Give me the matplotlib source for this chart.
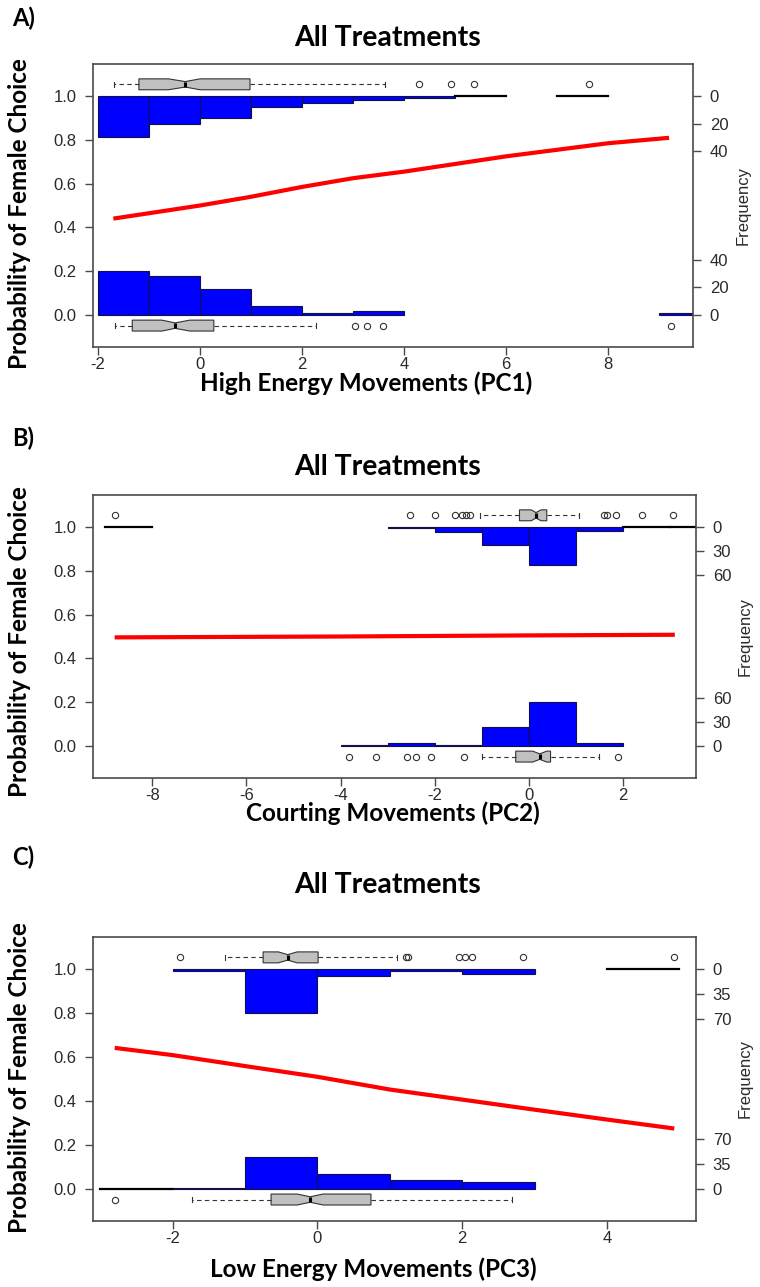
import numpy as np
import matplotlib
matplotlib.use("Agg")
import matplotlib.pyplot as plt

# =============================================================================
# DATA
# =============================================================================
# --- Panel A: High Energy Movements (PC1) ---
a_edges = [-2, -1, 0, 1, 2, 3, 4, 5, 6, 7, 8, 9, 10]
a_top_counts = [30, 20, 16, 8, 5, 3, 1, 0, np.nan, 0, np.nan, np.nan]
a_bot_counts = [32, 28, 19, 6, 1, 3, np.nan, np.nan, np.nan, np.nan, np.nan, 1]
a_curve_x = [-1.7, 0, 1, 2, 3, 4, 5, 6, 7, 8, 9.2]
a_curve_y = [0.44, 0.50, 0.54, 0.585, 0.625, 0.655, 0.69, 0.725, 0.755, 0.785, 0.81]
a_box_top = dict(whislo=-1.69, q1=-1.2, med=-0.29, q3=0.98, whishi=3.63,
                 cilo=-0.62, cihi=0.0, fliers=[4.29, 4.92, 5.37, 7.63])
a_box_bot = dict(whislo=-1.67, q1=-1.33, med=-0.49, q3=0.27, whishi=2.27,
                 cilo=-0.75, cihi=-0.2, fliers=[3.04, 3.27, 3.59, 9.24])
a_xticks = [-2, 0, 2, 4, 6, 8]
a_freq_ticks = [0, 20, 40]

# --- Panel B: Courting Movements (PC2) ---
b_edges = [-9, -8, -7, -6, -5, -4, -3, -2, -1, 0, 1, 2, 3, 4]
b_top_counts = [0, np.nan, np.nan, np.nan, np.nan, np.nan, 1, 6, 22, 48, 5, 0, 0]
b_bot_counts = [np.nan, np.nan, np.nan, np.nan, np.nan, 1, 3, 1, 23, 55, 3, np.nan, np.nan]
b_curve_x = [-8.8, -4, 0, 3.1]
b_curve_y = [0.496, 0.500, 0.505, 0.508]
b_box_top = dict(whislo=-1.04, q1=-0.2, med=0.15, q3=0.38, whishi=1.07,
                 cilo=0.05, cihi=0.26,
                 fliers=[-8.8, -2.53, -2.0, -1.57, -1.43, -1.33, -1.26,
                         1.6, 1.65, 1.85, 2.41, 3.07])
b_box_bot = dict(whislo=-1.0, q1=-0.28, med=0.23, q3=0.46, whishi=1.49,
                 cilo=0.08, cihi=0.38,
                 fliers=[-3.82, -3.24, -2.58, -2.39, -2.08, -1.37, 1.9])
b_xticks = [-8, -6, -4, -2, 0, 2]
b_freq_ticks = [0, 30, 60]

# --- Panel C: Low Energy Movements (PC3) ---
c_edges = [-3, -2, -1, 0, 1, 2, 3, 4, 5]
c_top_counts = [np.nan, 2, 62, 9, 2, 6, np.nan, 0]
c_bot_counts = [0, 1, 44, 21, 12, 9, np.nan, np.nan]
c_curve_x = [-2.8, -2, -1, 0, 1, 2, 3, 4, 4.93]
c_curve_y = [0.642, 0.609, 0.559, 0.51, 0.452, 0.406, 0.36, 0.315, 0.274]
c_box_top = dict(whislo=-1.28, q1=-0.75, med=-0.41, q3=0.01, whishi=1.1,
                 cilo=-0.54, cihi=-0.28,
                 fliers=[-1.9, 1.22, 1.25, 1.95, 2.04, 2.13, 2.84, 4.93])
c_box_bot = dict(whislo=-1.73, q1=-0.64, med=-0.1, q3=0.74, whishi=2.69,
                 cilo=-0.28, cihi=0.08, fliers=[-2.79])
c_xticks = [-2, 0, 2, 4]
c_freq_ticks = [0, 35, 70]

prob_ticks = [0.0, 0.2, 0.4, 0.6, 0.8, 1.0]

# =============================================================================
# DRAWING
# =============================================================================
W, H = 760, 1287
fig = plt.figure(figsize=(W / 100, H / 100), dpi=100)

TICK_FONT = 'Liberation Sans'
PPT_FONT = 'Lato'
SPINE = '#4a4a4a'
YLIM = (-0.148, 1.148)


def px_axes(left, top, right, bottom):
    return fig.add_axes([left / W, 1 - bottom / H, (right - left) / W, (bottom - top) / H])


def draw_panel(box_px, edges, top_counts, bot_counts, curve_x, curve_y,
               box_top, box_bot, xticks, freq_ticks, xlim):
    ax = px_axes(*box_px)
    ax.set_xlim(xlim)
    ax.set_ylim(YLIM)
    scale = 0.2 / np.nanmax(np.concatenate([top_counts, bot_counts]))

    # histograms: top hangs down from 1, bottom rises from 0
    for i in range(len(edges) - 1):
        l, r = edges[i], edges[i + 1]
        for c, base, sign in ((top_counts[i], 1.0, -1), (bot_counts[i], 0.0, 1)):
            if np.isnan(c):
                continue
            if c == 0:
                ax.plot([l, r], [base, base], color='black', lw=1.6, zorder=2)
            else:
                ax.bar(l, sign * c * scale, width=r - l, bottom=base, align='edge',
                       color='#0000ff', edgecolor='#10104a', linewidth=0.8, zorder=2)

    # boxplots
    for st, pos in ((box_top, 1.055), (box_bot, -0.05)):
        ax.bxp([st], positions=[pos], widths=0.05, vert=False, shownotches=True,
               patch_artist=True, capwidths=[0.025],
               boxprops=dict(facecolor='#c0c0c0', edgecolor='#333333', linewidth=0.8),
               whiskerprops=dict(linestyle=(0, (4, 3)), color='#333333', linewidth=0.8),
               capprops=dict(color='#333333', linewidth=0.8),
               medianprops=dict(color='black', linewidth=2.2),
               flierprops=dict(marker='o', markerfacecolor='none', markeredgecolor='#333333',
                               markersize=4.5, markeredgewidth=0.8),
               manage_ticks=False, zorder=3)

    # fitted probability curve
    ax.plot(curve_x, curve_y, color='#ff0000', lw=3, zorder=4, solid_capstyle='butt')

    ax.set_xticks(xticks)
    ax.set_xticklabels([str(t) for t in xticks])
    ax.set_yticks(prob_ticks)
    ax.set_yticklabels([f"{t:.1f}" for t in prob_ticks])
    for s in ax.spines.values():
        s.set_color(SPINE)
        s.set_linewidth(1.2)
    ax.tick_params(direction='out', length=6, width=1, color=SPINE,
                   labelsize=12, labelcolor='#2a2a2a')
    ax.tick_params(axis='x', pad=1.5)
    ax.tick_params(axis='y', pad=6)
    for lab in ax.get_xticklabels() + ax.get_yticklabels():
        lab.set_family(TICK_FONT)

    ax2 = ax.twinx()
    ax2.set_ylim(YLIM)
    rt = [1 - t * scale for t in freq_ticks] + [t * scale for t in freq_ticks]
    ax2.set_yticks(rt)
    ax2.set_yticklabels([str(t) for t in freq_ticks] * 2, family=TICK_FONT)
    ax2.tick_params(direction='out', length=6, width=1, color=SPINE, pad=6,
                    labelsize=12, labelcolor='#2a2a2a')
    for s in ax2.spines.values():
        s.set_visible(False)
    ax2.set_ylabel('Frequency', family=TICK_FONT, fontsize=12, color='#2a2a2a', labelpad=5)
    return ax


def fig_text(x, y, s, **kw):
    fig.text(x / W, 1 - y / H, s, **kw)


panels = [
    dict(box=(93, 64, 693, 347), edges=a_edges, top=a_top_counts, bot=a_bot_counts,
         cx=a_curve_x, cy=a_curve_y, bt=a_box_top, bb=a_box_bot, xt=a_xticks,
         ft=a_freq_ticks, xlim=(-2.1, 9.67),
         letter='A)', ly=18, ty=38, ycy=214, xl='High Energy Movements (PC1)', xlx=366, xly=391),
    dict(box=(93, 495, 696, 778), edges=b_edges, top=b_top_counts, bot=b_bot_counts,
         cx=b_curve_x, cy=b_curve_y, bt=b_box_top, bb=b_box_bot, xt=b_xticks,
         ft=b_freq_ticks, xlim=(-9.26, 3.55),
         letter='B)', ly=438, ty=467, ycy=642, xl='Courting Movements (PC2)', xlx=393, xly=821),
    dict(box=(93, 937, 696, 1221), edges=c_edges, top=c_top_counts, bot=c_bot_counts,
         cx=c_curve_x, cy=c_curve_y, bt=c_box_top, bb=c_box_bot, xt=c_xticks,
         ft=c_freq_ticks, xlim=(-3.1, 5.23),
         letter='C)', ly=857, ty=885, ycy=1078, xl='Low Energy Movements (PC3)', xlx=373, xly=1277),
]

for p in panels:
    draw_panel(p['box'], p['edges'], p['top'], p['bot'], p['cx'], p['cy'],
               p['bt'], p['bb'], p['xt'], p['ft'], p['xlim'])
    fig_text(12, p['ly'], p['letter'], family=PPT_FONT, fontweight='bold', fontsize=17,
             ha='left', va='center')
    fig_text(388, p['ty'], 'All Treatments', family=PPT_FONT, fontweight='bold', fontsize=20.5,
             ha='center', va='center')
    fig_text(20, p['ycy'], 'Probability of Female Choice', family=PPT_FONT, fontweight='bold',
             fontsize=17.5, rotation=90, ha='center', va='center')
    fig_text(p['xlx'], p['xly'], p['xl'], family=PPT_FONT, fontweight='bold', fontsize=17.5,
             ha='center', va='baseline')

fig.savefig('out.png', dpi=100)
